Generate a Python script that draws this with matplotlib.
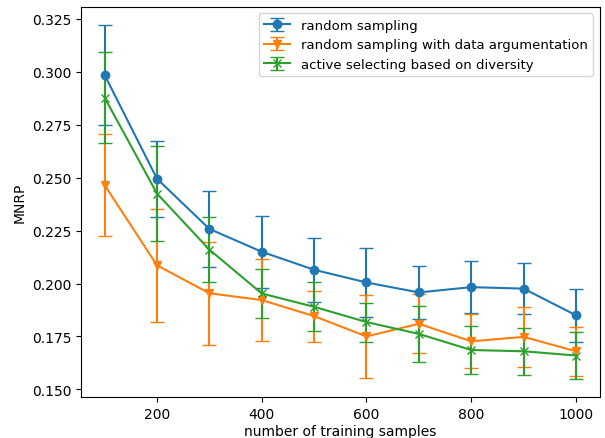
import numpy as np
import matplotlib
matplotlib.use("Agg")
import matplotlib.pyplot as plt

samples = [100, 200, 300, 400, 500, 600, 700, 800, 900, 1000]

random_mean = [0.2985, 0.2495, 0.2258, 0.2150, 0.2065, 0.2005, 0.1958, 0.1983, 0.1976, 0.1850]
random_err = [0.0238, 0.0180, 0.0178, 0.0170, 0.0152, 0.0165, 0.0125, 0.0123, 0.0122, 0.0126]

aug_mean = [0.2465, 0.2086, 0.1954, 0.1922, 0.1846, 0.1750, 0.1810, 0.1727, 0.1748, 0.1680]
aug_err = [0.0240, 0.0267, 0.0243, 0.0195, 0.0120, 0.0198, 0.0140, 0.0128, 0.0140, 0.0115]

active_mean = [0.2878, 0.2425, 0.2160, 0.1953, 0.1890, 0.1818, 0.1762, 0.1686, 0.1680, 0.1660]
active_err = [0.0216, 0.0225, 0.0155, 0.0118, 0.0115, 0.0092, 0.0133, 0.0113, 0.0112, 0.0113]

fig = plt.figure(figsize=(6.05, 4.39), dpi=100)
ax = fig.add_axes([0.134, 0.093, 0.857, 0.889])

ax.errorbar(samples, random_mean, yerr=random_err, marker='o', capsize=5, label="random sampling")
ax.errorbar(samples, aug_mean, yerr=aug_err, marker='v', capsize=5, label="random sampling with data argumentation")
ax.errorbar(samples, active_mean, yerr=active_err, marker='x', capsize=5, label="active selecting based on diversity")

ax.set_xlabel("number of training samples", labelpad=2)
ax.set_ylabel("MNRP")
ax.legend(loc="upper right", fontsize=9.5)

fig.savefig("out.png")
